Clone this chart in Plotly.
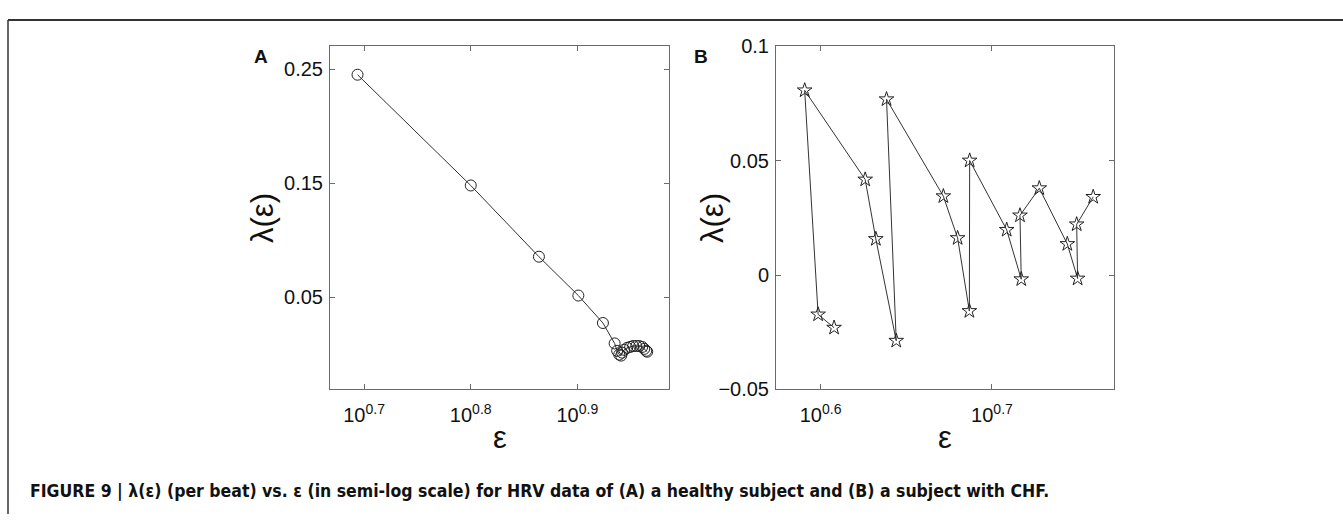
import plotly.graph_objects as go

# Panel A: healthy subject
eps_a = [4.941, 6.310, 7.311, 7.961, 8.395, 8.610,
         8.657, 8.696, 8.733, 8.751, 8.790, 8.846, 8.904,
         8.961, 9.022, 9.080, 9.138, 9.178, 9.217, 9.238]
lam_a = [0.2452, 0.1480, 0.0855, 0.0514, 0.0273, 0.0094,
         0.0029, -0.0004, -0.0013, 0.0013, 0.0038, 0.0055, 0.0063,
         0.0071, 0.0071, 0.0071, 0.0063, 0.0046, 0.0029, 0.0021]

# Panel B: subject with CHF
eps_b = [4.054, 3.968, 3.897, 4.227, 4.288, 4.407, 4.350, 4.695, 4.786, 4.862,
         4.864, 5.112, 5.213, 5.204, 5.341, 5.546, 5.623, 5.616, 5.742]
lam_b = [-0.0230, -0.0172, 0.0808, 0.0418, 0.0158, -0.0287, 0.0769, 0.0345,
         0.0162, -0.0157, 0.0501, 0.0198, -0.0018, 0.0261, 0.0380, 0.0136,
         -0.0015, 0.0222, 0.0342]

xtick_a_vals = [10 ** 0.7, 10 ** 0.8, 10 ** 0.9]
xtick_a_text = ["10<sup>0.7</sup>", "10<sup>0.8</sup>", "10<sup>0.9</sup>"]
ytick_a_vals = [0.05, 0.15, 0.25]
ytick_a_text = ["0.05", "0.15", "0.25"]

xtick_b_vals = [10 ** 0.6, 10 ** 0.7]
xtick_b_text = ["10<sup>0.6</sup>", "10<sup>0.7</sup>"]
ytick_b_vals = [-0.05, 0, 0.05, 0.1]
ytick_b_text = ["\u22120.05", "0", "0.05", "0.1"]

caption = ("FIGURE 9 | \u03bb(\u03b5) (per beat) vs. \u03b5 (in semi-log scale) for HRV data of "
           "(A) a healthy subject and (B) a subject with CHF.")

W, H = 1343, 525
FONT = "Liberation Sans, Arial, Helvetica, sans-serif"
NARROW = "Liberation Sans Narrow, DejaVu Sans Condensed, Arial Narrow, sans-serif"
LINE = "#333333"
AXIS = "#6a6a6a"

def px(x):
    return x / W

def py(y):
    return 1 - y / H

fig = go.Figure()
fig.add_trace(go.Scatter(
    x=eps_a, y=lam_a, mode="lines+markers", xaxis="x", yaxis="y",
    line=dict(color=LINE, width=1),
    marker=dict(symbol="circle-open", size=11, color="#222222", line=dict(width=1)),
    showlegend=False))
fig.add_trace(go.Scatter(
    x=eps_b, y=lam_b, mode="lines+markers", xaxis="x2", yaxis="y2",
    line=dict(color=LINE, width=1),
    marker=dict(symbol="star-open", size=11, color="#222222", line=dict(width=1)),
    showlegend=False))

axis_common = dict(
    showline=True, linecolor=AXIS, linewidth=1, mirror="ticks",
    ticks="inside", ticklen=5, tickcolor=AXIS, tickwidth=1,
    showgrid=False, zeroline=False,
    tickfont=dict(family=FONT, size=20, color="#111111"),
)

fig.update_layout(
    width=W, height=H,
    margin=dict(l=0, r=0, t=0, b=0),
    paper_bgcolor="white", plot_bgcolor="white",
    xaxis=dict(axis_common, type="log", domain=[px(330), px(669)],
               range=[0.668, 0.986], tickvals=xtick_a_vals, ticktext=xtick_a_text,
               anchor="y", ticklabelstandoff=8),
    yaxis=dict(axis_common, domain=[py(395), py(37)], range=[-0.031, 0.270],
               tickvals=ytick_a_vals, ticktext=ytick_a_text, anchor="x",
               ticklabelstandoff=2),
    xaxis2=dict(axis_common, type="log", domain=[px(776), px(1114)],
                range=[0.574, 0.7712], tickvals=xtick_b_vals, ticktext=xtick_b_text,
                anchor="y2", ticklabelstandoff=8),
    yaxis2=dict(axis_common, domain=[py(395), py(37)], range=[-0.05, 0.1],
                tickvals=ytick_b_vals, ticktext=ytick_b_text, anchor="x2",
                ticklabelstandoff=2),
)

def label(text, x, y, size, bold=False, angle=0, family=FONT, xanchor="center"):
    fig.add_annotation(
        text=f"<b>{text}</b>" if bold else text,
        x=px(x), y=py(y), xref="paper", yref="paper",
        xanchor=xanchor, yanchor="middle", showarrow=False, textangle=angle,
        font=dict(family=family, size=size, color="#111111"))

# axis titles
label("\u03bb(\u03b5)", 263, 216, 31, angle=-90)
label("\u03bb(\u03b5)", 713, 216, 31, angle=-90)
label("\u03b5", 500, 445, 31)
label("\u03b5", 945, 445, 31)

# panel letters
label("A", 261, 47, 19, bold=True)
label("B", 701, 47, 19, bold=True)

# caption
label(caption, 28, 501, 17.5, bold=True, xanchor="left", family=NARROW)

# frame lines along top and left
fig.add_shape(type="line", xref="paper", yref="paper",
              x0=px(8), x1=1, y0=py(9.5), y1=py(9.5),
              line=dict(color="#333333", width=2))
fig.add_shape(type="line", xref="paper", yref="paper",
              x0=px(8), x1=px(8), y0=py(9.5), y1=0,
              line=dict(color="#333333", width=1.5))

fig.write_html("out.html")
